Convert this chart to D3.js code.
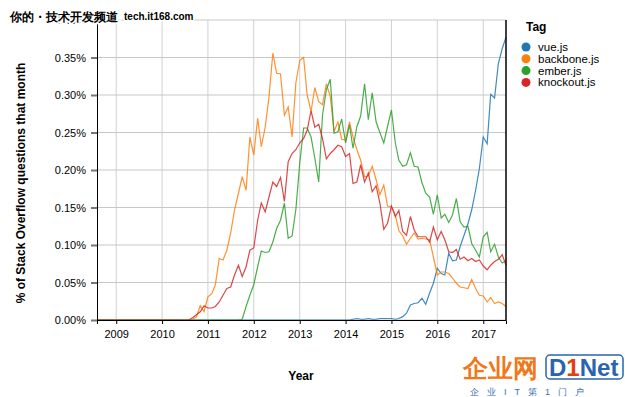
<!DOCTYPE html>
<html>
<head>
<meta charset="utf-8">
<script src="https://cdn.jsdelivr.net/npm/d3@7"></script>
<style>
  body { margin: 0; background: #fff; }
  text { font-family: "Liberation Sans", Arial, sans-serif; }
</style>
</head>
<body>
<script>
const svgWidth = 625;
const svgHeight = 397;

// data: share of Stack Overflow questions per month (in %), Aug 2008 .. Jul 2017
const tags = ["vue.js", "backbone.js", "ember.js", "knockout.js"];
const colors = ["#1f77b4", "#ff7f0e", "#2ca02c", "#d62728"];
const firstMonth = new Date(2008, 7, 1);
const lastMonth = new Date(2017, 6, 1);
const months = d3.timeMonth.range(firstMonth, new Date(2017, 7, 1));

const vue = [
  0,0,0,0,0,
  0,0,0,0,0,0,0,0,0,0,0,0,
  0,0,0,0,0,0,0,0,0,0,0,0,
  0,0,0,0,0,0,0,0,0,0,0,0,
  0,0,0,0,0,0,0,0,0,0,0,0,
  0,0,0,0,0,0,0,0,0,0,0,0,
  0,0,0.001,0.002,0.001,0.001,0.002,0.001,0.001,0.002,0.002,0.002,
  0.002,0.001,0.002,0.0045,0.009,0.020,0.022,0.023,0.029,0.021,0.036,0.049,
  0.069,0.062,0.060,0.089,0.079,0.080,0.098,0.113,0.128,0.147,0.173,0.202,
  0.244,0.235,0.301,0.296,0.342,0.362,0.377
];
const backbone = [
  0,0,0,0,0,
  0,0,0,0,0,0,0,0,0,0,0,0,
  0,0,0,0,0,0,0,0,0.001,0.004,0.019,0.011,
  0.031,0.035,0.047,0.082,0.080,0.093,0.116,0.147,0.169,0.191,0.173,0.244,
  0.220,0.269,0.231,0.257,0.297,0.356,0.329,0.328,0.273,0.284,0.244,0.316,
  0.346,0.350,0.300,0.278,0.310,0.291,0.287,0.315,0.298,0.251,0.264,0.241,
  0.240,0.264,0.244,0.227,0.213,0.191,0.192,0.205,0.187,0.167,0.180,0.152,
  0.151,0.140,0.119,0.112,0.101,0.109,0.116,0.108,0.109,0.108,0.107,0.084,
  0.060,0.064,0.064,0.062,0.056,0.049,0.044,0.043,0.042,0.054,0.042,0.033,
  0.032,0.024,0.030,0.022,0.024,0.022,0.018
];
const ember = [
  0,0,0,0,0,
  0,0,0,0,0,0,0,0,0,0,0,0,
  0,0,0,0,0,0,0,0,0,0,0,0,
  0,0,0,0,0,0,0,0,0,0.001,0.018,0.033,
  0.047,0.071,0.092,0.090,0.091,0.104,0.122,0.133,0.156,0.109,0.112,0.147,
  0.209,0.256,0.256,0.244,0.216,0.184,0.273,0.307,0.321,0.249,0.251,0.268,
  0.236,0.260,0.229,0.258,0.272,0.315,0.267,0.303,0.264,0.250,0.236,0.258,
  0.280,0.236,0.213,0.205,0.207,0.223,0.205,0.204,0.183,0.169,0.164,0.141,
  0.167,0.136,0.141,0.130,0.140,0.162,0.131,0.124,0.125,0.102,0.093,0.084,
  0.111,0.117,0.091,0.101,0.084,0.076,0.079
];
const knockout = [
  0,0,0,0,0,
  0,0,0,0,0,0,0,0,0,0,0,0,
  0,0,0,0,0,0,0,0,0.003,0.007,0.011,0.019,
  0.016,0.016,0.018,0.024,0.033,0.042,0.044,0.060,0.073,0.058,0.071,0.093,
  0.096,0.133,0.156,0.144,0.164,0.184,0.178,0.190,0.158,0.211,0.222,0.227,
  0.236,0.242,0.253,0.279,0.257,0.261,0.242,0.215,0.222,0.227,0.233,0.231,
  0.218,0.222,0.182,0.184,0.207,0.184,0.196,0.171,0.179,0.156,0.121,0.129,
  0.152,0.138,0.146,0.118,0.113,0.138,0.120,0.111,0.111,0.111,0.104,0.124,
  0.107,0.118,0.107,0.091,0.090,0.094,0.081,0.084,0.079,0.082,0.078,0.080,
  0.072,0.067,0.073,0.078,0.081,0.087,0.073
];
const series = [vue, backbone, ember, knockout];

const yTicks = [0, 0.05, 0.10, 0.15, 0.20, 0.25, 0.30, 0.35, 0.40];
const yearTicks = [2009, 2010, 2011, 2012, 2013, 2014, 2015, 2016, 2017];

// plot box
const plotLeft = 97, plotRight = 506, plotTop = 20, plotBottom = 320;

const svg = d3.select("body").append("svg")
  .attr("width", svgWidth)
  .attr("height", svgHeight);

const xScale = d3.scaleTime().domain([firstMonth, lastMonth]).range([plotLeft, plotRight]);
const yScale = d3.scaleLinear().domain([0, 0.4]).range([plotBottom, plotTop]);
const yearDates = yearTicks.map(yr => new Date(yr, 0, 1));

// grid
svg.append("g").selectAll("line").data(yearDates).join("line")
  .attr("x1", d => xScale(d)).attr("x2", d => xScale(d))
  .attr("y1", plotTop).attr("y2", plotBottom)
  .attr("stroke", "#d0d0d0").attr("stroke-width", 1);
svg.append("g").selectAll("line").data(yTicks).join("line")
  .attr("x1", plotLeft).attr("x2", plotRight)
  .attr("y1", d => yScale(d)).attr("y2", d => yScale(d))
  .attr("stroke", "#c8c8c8").attr("stroke-width", 1);

// lines
const line = d3.line()
  .x((d, i) => xScale(months[i]))
  .y(d => yScale(d));
series.forEach((s, k) => {
  svg.append("path")
    .attr("d", line(s))
    .attr("fill", "none")
    .attr("stroke", colors[k])
    .attr("stroke-width", 1.2)
    .attr("stroke-opacity", 0.85);
});

// axes
const yAxis = svg.append("g")
  .attr("transform", "translate(" + plotLeft + ",0)")
  .call(d3.axisLeft(yScale).tickValues(yTicks)
    .tickFormat(d => d.toFixed(2) + "%").tickSize(6).tickPadding(5));
yAxis.selectAll(".tick line").attr("stroke", "#777").attr("stroke-width", 2);
yAxis.select(".domain").attr("stroke", "#000");
yAxis.selectAll("text").attr("font-size", 11).attr("fill", "#000")
  .attr("font-family", "'Liberation Sans', Arial, sans-serif");

const xAxis = svg.append("g")
  .attr("transform", "translate(0," + plotBottom + ")")
  .call(d3.axisBottom(xScale).tickValues(yearDates)
    .tickFormat(d3.timeFormat("%Y")).tickSize(4).tickPadding(6));
xAxis.select(".domain").attr("stroke", "#000");
xAxis.selectAll("text").attr("font-size", 11).attr("fill", "#000")
  .attr("font-family", "'Liberation Sans', Arial, sans-serif");

// right border
svg.append("line")
  .attr("x1", plotRight).attr("x2", plotRight)
  .attr("y1", plotTop).attr("y2", plotBottom)
  .attr("stroke", "#000").attr("stroke-width", 1.5);

// axis titles
svg.append("text")
  .attr("transform", "translate(25,183) rotate(-90)")
  .attr("text-anchor", "middle")
  .attr("font-size", 12).attr("font-weight", "bold")
  .text("% of Stack Overflow questions that month");
svg.append("text")
  .attr("x", 301).attr("y", 380)
  .attr("text-anchor", "middle")
  .attr("font-size", 12).attr("font-weight", "bold")
  .text("Year");

// legend
svg.append("text")
  .attr("x", 526).attr("y", 31)
  .attr("font-size", 12).attr("font-weight", "bold")
  .text("Tag");
const legend = svg.append("g").selectAll("g").data(tags).join("g")
  .attr("transform", (d, i) => "translate(526," + (47 + i * 11.8) + ")");
legend.append("circle").attr("r", 4.5).attr("fill", (d, i) => colors[i]);
legend.append("text").attr("x", 12).attr("y", 4)
  .attr("font-size", 11.5).text(d => d);

// watermarks
svg.append("text")
  .attr("x", 10).attr("y", 21)
  .attr("font-size", 12).attr("font-weight", "bold")
  .attr("font-family", "'Noto Sans CJK SC', sans-serif")
  .attr("stroke", "#fff").attr("stroke-width", 3).attr("paint-order", "stroke")
  .text("你的・技术开发频道");
svg.append("text")
  .attr("x", 124).attr("y", 20)
  .attr("font-size", 10).attr("font-weight", "bold")
  .attr("font-family", "'DejaVu Sans Mono', monospace")
  .attr("stroke", "#fff").attr("stroke-width", 3).attr("paint-order", "stroke")
  .text("tech.it168.com");

const logo = svg.append("g");
logo.append("text")
  .attr("x", 463).attr("y", 377)
  .attr("font-size", 25).attr("font-weight", "bold")
  .attr("font-family", "'Noto Sans CJK SC', sans-serif")
  .attr("fill", "#f07818")
  .text("企业网");
logo.append("rect")
  .attr("x", 546).attr("y", 355).attr("width", 77).attr("height", 24).attr("rx", 4)
  .attr("fill", "#fff").attr("stroke", "#2a64b0").attr("stroke-width", 1.5);
const d1 = logo.append("text")
  .attr("x", 549).attr("y", 376)
  .attr("font-size", 24).attr("font-weight", "bold")
  .attr("font-family", "'Liberation Sans', Arial, sans-serif");
d1.append("tspan").attr("fill", "#2a64b0").text("D");
d1.append("tspan").attr("fill", "#e04010").text("1");
d1.append("tspan").attr("fill", "#2a64b0").text("Net");
logo.append("text")
  .attr("x", 470).attr("y", 395)
  .attr("font-size", 9)
  .attr("font-family", "'Noto Sans CJK SC', sans-serif")
  .attr("fill", "#3a70b8")
  .attr("letter-spacing", 8)
  .text("企业IT第1门户");
</script>
</body>
</html>
